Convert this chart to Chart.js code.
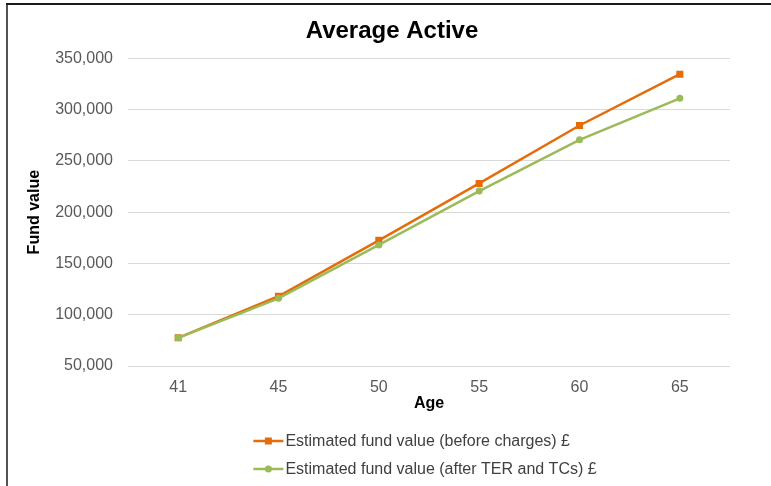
<!DOCTYPE html>
<html>
<head>
<meta charset="utf-8">
<title>Average Active</title>
<script src="https://cdn.jsdelivr.net/npm/chart.js@4/dist/chart.umd.min.js"></script>
<style>
  html, body { margin: 0; padding: 0; background: #ffffff; }
  #wrap { position: relative; width: 771px; height: 486px; }
</style>
</head>
<body>
<div id="wrap"><canvas id="chart" width="771" height="486"></canvas></div>
<script>
// Age at each projection point
const ages = ['41', '45', '50', '55', '60', '65'];
// Estimated fund value (£) before any charges
const beforeCharges = [77500, 118000, 172500, 228000, 284500, 334500];
// Estimated fund value (£) after TER and transaction costs
const afterCharges = [77500, 116000, 168000, 220500, 270500, 311000];

const seriesNames = [
  'Estimated fund value (before charges) £',
  'Estimated fund value (after TER and TCs) £'
];
const chartTitle = 'Average Active';

const FONT = "'Liberation Sans', Arial, Helvetica, sans-serif";
const ORANGE = '#E46C0A';
const GREEN = '#9BBB59';

// Thin frame along the top and left edges, plus the centred heading
const framePlugin = {
  id: 'frame',
  afterDraw(chart) {
    const ctx = chart.ctx;
    ctx.save();
    ctx.strokeStyle = '#1a1a1a';
    ctx.lineWidth = 2;
    ctx.beginPath();
    ctx.moveTo(6, 4);
    ctx.lineTo(chart.width, 4);
    ctx.stroke();
    ctx.lineWidth = 1.5;
    ctx.beginPath();
    ctx.moveTo(7, 4);
    ctx.lineTo(7, chart.height);
    ctx.stroke();

    ctx.fillStyle = '#000000';
    ctx.font = 'bold 24px ' + FONT;
    ctx.textAlign = 'center';
    ctx.textBaseline = 'middle';
    ctx.fillText(chartTitle, (chart.width + 13) / 2, 31);
    ctx.restore();
  }
};

// Legend stacked one entry per row below the x-axis title
const stackedLegend = {
  id: 'stackedLegend',
  afterDraw(chart) {
    const ctx = chart.ctx;
    const area = chart.chartArea;
    const xScale = chart.scales.x;
    ctx.save();
    ctx.font = '16px ' + FONT;
    const sets = chart.data.datasets;
    let maxW = 0;
    sets.forEach(ds => { maxW = Math.max(maxW, ctx.measureText(ds.label).width); });
    const sampleW = 30, gap = 2;
    const blockW = sampleW + gap + maxW;
    const left = (area.left + area.right) / 2 - blockW / 2 - 4;
    const rowH = 28;
    const firstY = xScale.bottom + 25;
    sets.forEach((ds, i) => {
      const y = firstY + i * rowH;
      ctx.strokeStyle = ds.borderColor;
      ctx.lineWidth = ds.borderWidth;
      ctx.beginPath();
      ctx.moveTo(left, y);
      ctx.lineTo(left + sampleW, y);
      ctx.stroke();
      ctx.fillStyle = ds.pointBackgroundColor;
      ctx.beginPath();
      if (ds.pointStyle === 'rect') {
        const s = 3.5;
        ctx.fillRect(left + sampleW / 2 - s, y - s, 2 * s, 2 * s);
      } else {
        ctx.arc(left + sampleW / 2, y, 3.5, 0, Math.PI * 2);
        ctx.fill();
      }
      ctx.fillStyle = '#404040';
      ctx.textAlign = 'left';
      ctx.textBaseline = 'middle';
      ctx.fillText(ds.label, left + sampleW + gap, y + 1);
    });
    ctx.restore();
  }
};

new Chart(document.getElementById('chart'), {
  type: 'line',
  data: {
    labels: ages,
    datasets: [
      {
        label: seriesNames[0],
        data: beforeCharges,
        borderColor: ORANGE,
        backgroundColor: ORANGE,
        pointBackgroundColor: ORANGE,
        pointBorderColor: ORANGE,
        borderWidth: 2.5,
        pointStyle: 'rect',
        pointRadius: 5,
        pointBorderWidth: 0,
        tension: 0,
        order: 1
      },
      {
        label: seriesNames[1],
        data: afterCharges,
        borderColor: GREEN,
        backgroundColor: GREEN,
        pointBackgroundColor: GREEN,
        pointBorderColor: GREEN,
        borderWidth: 2.5,
        pointStyle: 'circle',
        pointRadius: 3.5,
        pointBorderWidth: 0,
        tension: 0,
        order: 0
      }
    ]
  },
  options: {
    responsive: false,
    animation: false,
    devicePixelRatio: 1,
    layout: { padding: { left: 0, right: 41, top: 58.3, bottom: 70 } },
    plugins: {
      legend: { display: false },
      tooltip: { enabled: false },
      title: { display: false }
    },
    scales: {
      x: {
        type: 'category',
        offset: true,
        grid: { display: false, drawTicks: false },
        border: { display: false },
        ticks: {
          color: '#595959',
          font: { family: FONT, size: 16 },
          padding: 12,
          maxRotation: 0
        },
        title: {
          display: true,
          text: 'Age',
          color: '#000000',
          font: { family: FONT, size: 16, weight: 'bold' },
          padding: { top: 0, bottom: 2.6 }
        },
        afterFit(scale) { scale.height = 50; }
      },
      y: {
        min: 50000,
        max: 350000,
        grid: { color: '#D9D9D9', lineWidth: 1, drawTicks: false },
        border: { display: false },
        ticks: {
          stepSize: 50000,
          color: '#595959',
          font: { family: FONT, size: 16 },
          padding: 15,
          callback: v => v.toLocaleString('en-GB')
        },
        title: {
          display: true,
          text: 'Fund value',
          color: '#000000',
          font: { family: FONT, size: 16, weight: 'bold' },
          padding: { top: 25.4, bottom: 0 }
        },
        afterFit(scale) { scale.width = 128; }
      }
    }
  },
  plugins: [framePlugin, stackedLegend]
});
</script>
</body>
</html>
